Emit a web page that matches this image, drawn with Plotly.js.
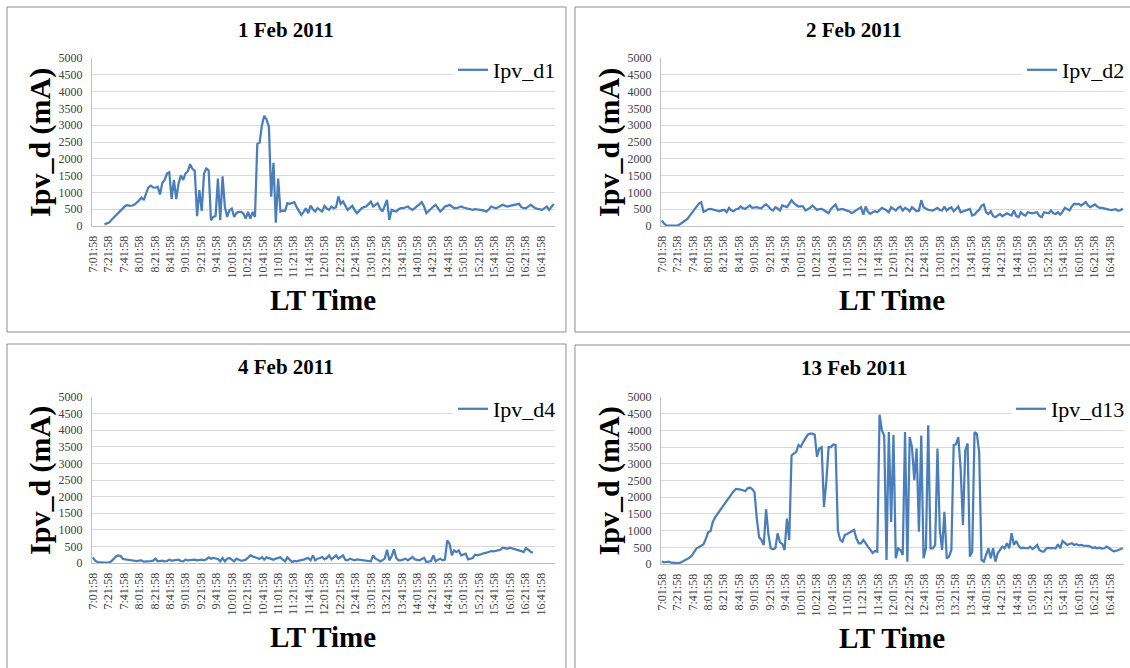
<!DOCTYPE html>
<html><head><meta charset="utf-8">
<script src="https://cdn.plot.ly/plotly-3.0.1.min.js"></script>
<style>html,body{margin:0;padding:0;background:#fff;}#chart{width:1130px;height:668px;}</style>
</head><body><div id="chart"></div>
<script>
// ---------------- data ----------------
const panelTitles = ['1 Feb 2011', '2 Feb 2011', '4 Feb 2011', '13 Feb 2011'];
const seriesNames = ['Ipv_d1', 'Ipv_d2', 'Ipv_d4', 'Ipv_d13'];
const tickLabels = ['7:01:58','7:21:58','7:41:58','8:01:58','8:21:58','8:41:58','9:01:58','9:21:58','9:41:58',
  '10:01:58','10:21:58','10:41:58','11:01:58','11:21:58','11:41:58','12:01:58','12:21:58','12:41:58',
  '13:01:58','13:21:58','13:41:58','14:01:58','14:21:58','14:41:58','15:01:58','15:21:58','15:41:58',
  '16:01:58','16:21:58','16:41:58'];
const tickStepMinutes = 20;      // minutes between labelled categories
const sampleStepMinutes = 3;     // minutes between samples (from 7:01:58)
const yTitle = 'Ipv_d (mA)';
const xTitle = 'LT Time';

const ipv_d1 = [
 null,null,null,null,null,50,70,100,180,250,
 320,390,460,540,600,620,600,610,640,700,
 760,850,770,970,1150,1200,1150,1140,1170,940,
 1290,1370,1560,1600,800,1370,800,1260,1510,1370,
 1560,1630,1840,1700,1640,290,1070,450,1560,1710,
 1660,170,270,300,1410,170,1480,570,270,470,
 520,270,390,420,420,370,220,420,220,420,
 270,2440,2480,3000,3280,3170,2960,870,1880,100,
 1410,430,460,450,680,660,680,710,560,430,
 330,420,530,380,610,500,430,530,480,430,
 600,520,480,580,530,560,880,660,730,600,
 480,540,600,480,380,450,530,560,580,650,
 730,580,620,680,520,430,600,780,180,480,
 450,430,500,530,530,550,580,520,480,530,
 580,650,710,580,380,450,530,580,630,530,
 430,500,580,600,630,580,530,530,560,580,
 550,530,510,490,480,500,490,500,470,450,
 430,500,580,550,530,560,600,630,600,580,
 600,610,630,650,660,560,530,530,580,630,
 580,530,510,490,480,530,580,480,560,660];

const ipv_d2 = [
 170,70,20,10,10,10,15,20,60,110,
 160,210,300,400,490,580,670,710,420,450,
 500,510,490,480,470,440,470,480,410,540,
 470,440,500,510,580,530,510,560,610,540,
 560,560,540,530,600,640,580,500,460,560,
 520,460,610,580,560,660,770,680,620,580,
 590,580,460,500,540,610,530,480,500,510,
 470,420,380,510,580,640,480,500,510,480,
 460,430,380,430,480,520,560,340,580,420,
 360,410,440,410,480,540,510,460,410,560,
 500,460,540,580,460,540,500,440,560,500,
 440,460,770,560,520,480,470,460,500,540,
 480,460,580,460,520,560,440,520,580,410,
 440,460,490,510,310,340,420,480,600,640,
 410,360,440,300,260,320,360,290,340,380,
 340,310,460,300,260,410,340,310,410,400,
 380,400,410,300,260,410,400,380,460,380,
 360,410,340,420,540,500,460,580,660,650,
 660,610,650,710,610,560,600,640,580,540,
 540,530,510,490,470,480,500,450,470,520];

const ipv_d4 = [
 170,70,30,20,15,15,15,20,50,120,
 200,230,210,120,110,100,90,70,50,60,
 70,80,40,40,50,60,70,130,50,60,
 70,50,60,100,70,80,80,100,60,50,
 100,80,90,100,100,80,90,100,80,110,
 170,130,150,130,120,50,150,50,130,150,
 100,50,130,100,70,80,100,160,230,200,
 170,140,120,180,100,170,140,120,100,130,
 150,170,100,50,170,100,30,60,50,70,
 80,100,130,150,80,230,80,130,150,180,
 110,150,230,110,170,230,130,170,230,100,
 80,130,110,80,110,100,80,80,80,70,
 50,230,130,100,50,80,130,400,80,200,
 410,150,80,80,100,130,80,120,180,110,
 90,80,120,160,30,50,60,230,50,100,
 130,80,100,680,580,230,380,330,380,230,
 250,280,110,130,150,250,230,250,280,300,
 310,330,360,350,360,380,400,460,440,430,
 460,440,430,420,400,360,330,450,400,340,
 310,null,null,null,null,null,null,null,null,null];

const ipv_d13 = [
 70,50,60,70,40,30,20,30,40,80,
 120,150,190,260,370,470,500,550,590,750,
 950,980,1260,1400,1500,1600,1680,1780,1900,2000,
 2110,2180,2250,2250,2230,2210,2180,2260,2290,2240,
 2150,1360,800,720,570,1640,900,470,440,470,
 920,650,600,420,1360,720,3250,3310,3350,3560,
 3510,3650,3750,3870,3900,3900,3870,3210,3460,3500,
 1710,2460,3500,3500,3580,3560,1000,720,670,870,
 900,950,980,1020,760,620,620,720,600,520,
 430,330,390,370,4470,4000,3850,120,3950,1260,
 3870,170,470,420,270,3950,70,3800,3500,2510,
 3460,970,3850,170,470,4150,470,470,570,3460,
 1020,420,1560,170,220,420,3560,3580,3800,2860,
 1170,3410,3610,220,370,3950,3900,3360,120,70,
 270,470,170,470,70,320,420,520,470,620,
 470,920,570,690,550,470,490,480,470,520,
 450,500,570,420,380,370,470,480,470,470,
 470,590,470,690,620,570,600,620,570,590,
 560,570,550,550,540,520,480,500,470,490,
 460,470,520,480,430,380,390,420,460,470];

const allSeries = [ipv_d1, ipv_d2, ipv_d4, ipv_d13];

// ---------------- layout geometry (pixels) ----------------
const W = 1130, H = 668;
const panels = [
  {box:[7,7,567,332],     plot:[92,58,556,226]},
  {box:[576,7,1136,332],  plot:[662,58,1126,226]},
  {box:[7,344,567,672],   plot:[92,397,556,563]},
  {box:[576,345,1136,672],plot:[662,397,1126,564]}
];
const px = x => x / W;
const py = y => 1 - y / H;
const SERIF = 'Liberation Serif';
const lineColor = '#4a7ebb';

const tickVals = tickLabels.map((_, k) => k * tickStepMinutes);

const data = [];
const layout = {
  width: W, height: H,
  margin: {l:0, r:0, t:0, b:0, pad:0},
  paper_bgcolor: '#fff', plot_bgcolor: '#fff',
  font: {family: SERIF},
  showlegend: true,
  shapes: [], annotations: []
};

panels.forEach((p, k) => {
  const n = k + 1;
  const xa = 'xaxis' + (n === 1 ? '' : n), ya = 'yaxis' + (n === 1 ? '' : n);
  const xr = 'x' + (n === 1 ? '' : n), yr = 'y' + (n === 1 ? '' : n);
  const lg = 'legend' + (n === 1 ? '' : n);
  const vals = allSeries[k];
  const xs = vals.map((_, i) => i * sampleStepMinutes);
  data.push({
    type: 'scatter', mode: 'lines', x: xs, y: vals, name: seriesNames[k],
    xaxis: xr, yaxis: yr, legend: lg,
    line: {color: lineColor, width: 2.25}, connectgaps: false, hoverinfo: 'x+y'
  });
  const [l, t, r, b] = p.plot;
  layout[xa] = {
    domain: [px(l), px(r)], anchor: yr, range: [-1.3, 598.6],
    tickmode: 'array', tickvals: tickVals, ticktext: tickLabels, tickangle: -90,
    tickfont: {family: SERIF, size: 12, color: '#404040'},
    showgrid: false, zeroline: false, showline: true, linecolor: '#bfbfbf', linewidth: 1,
    ticks: 'outside', ticklen: 4, tickcolor: 'rgba(0,0,0,0)'
  };
  layout[ya] = {
    domain: [py(b), py(t)], anchor: xr, range: [0, 5000], dtick: 500, tick0: 0, tickformat: 'd',
    tickfont: {family: SERIF, size: 12, color: '#404040'},
    showgrid: true, gridcolor: '#d9d9d9', gridwidth: 1, zeroline: false,
    showline: true, linecolor: '#bfbfbf', linewidth: 1,
    ticks: 'outside', ticklen: 6, tickcolor: 'rgba(0,0,0,0)'
  };
  layout[lg] = {
    x: px(r + 6), xanchor: 'right', y: py(t - 9), yanchor: 'top',
    bgcolor: '#fff', borderwidth: 0,
    font: {family: SERIF, size: 22, color: '#000'}
  };
  const [bl, bt, br, bb] = p.box;
  layout.shapes.push({type: 'rect', xref: 'paper', yref: 'paper',
    x0: px(bl), x1: px(br), y0: py(bb), y1: py(bt),
    line: {color: '#8c8c8c', width: 1}, fillcolor: 'rgba(0,0,0,0)', layer: 'below'});
  // panel title
  layout.annotations.push({xref: 'paper', yref: 'paper', x: px((bl + br) / 2), y: py(bt + 23),
    xanchor: 'center', yanchor: 'middle', showarrow: false, text: '<b>' + panelTitles[k] + '</b>',
    font: {family: SERIF, size: 21, color: '#000'}});
  // y axis title
  layout.annotations.push({xref: 'paper', yref: 'paper', x: px(l - 52), y: py((t + b) / 2),
    xanchor: 'center', yanchor: 'middle', showarrow: false, textangle: -90,
    text: '<b>' + yTitle + '</b>', font: {family: SERIF, size: 30, color: '#000'}});
  // x axis title
  layout.annotations.push({xref: 'paper', yref: 'paper', x: px((l + r) / 2), y: py(b + 74),
    xanchor: 'center', yanchor: 'middle', showarrow: false,
    text: '<b>' + xTitle + '</b>', font: {family: SERIF, size: 29, color: '#000'}});
});

Plotly.newPlot('chart', data, layout, {displayModeBar: false, staticPlot: true});
</script>
</body></html>
